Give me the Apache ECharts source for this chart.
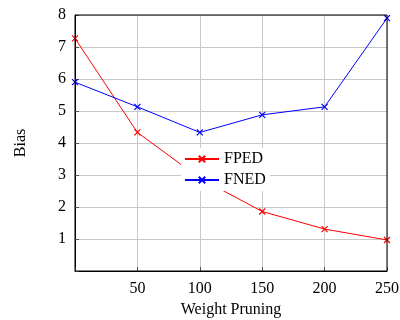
<!DOCTYPE html>
<html>
<head>
<meta charset="utf-8">
<script src="https://cdn.jsdelivr.net/npm/echarts@6/dist/echarts.min.js"></script>
<style>
  html, body { margin: 0; padding: 0; background: #fff; }
  #chart { width: 400px; height: 320px; }
</style>
</head>
<body>
<div id="chart"></div>
<script>
var xValues = [0, 50, 100, 150, 200, 250];
var fped = [7.27, 4.33, 2.9, 1.86, 1.31, 0.97];
var fned = [5.9, 5.13, 4.33, 4.88, 5.13, 7.9];
var seriesNames = ["FPED", "FNED"];
var seriesColors = ["#ff0000", "#0000ff"];

function pairs(ys) {
  return xValues.map(function (x, i) { return [x, ys[i]]; });
}

var font = "Liberation Serif";
var chart = echarts.init(document.getElementById("chart"));
chart.setOption({
  backgroundColor: "#fff",
  animation: false,
  grid: { left: 75, right: 13, top: 15, bottom: 49, outerBoundsMode: "none", containLabel: false },
  legend: {
    data: seriesNames,
    orient: "vertical",
    left: 181,
    top: 148,
    backgroundColor: "#fff",
    padding: [3, 4, 3, 3],
    itemGap: 5,
    itemWidth: 34,
    itemHeight: 8,
    textStyle: { fontFamily: font, fontSize: 16, color: "#000" }
  },
  xAxis: {
    type: "value",
    min: 0,
    max: 250,
    interval: 50,
    name: "Weight Pruning",
    nameLocation: "middle",
    nameGap: 31,
    nameTextStyle: { fontFamily: font, fontSize: 16, color: "#000" },
    axisLine: { lineStyle: { color: "#000", width: 1 } },
    axisTick: { inside: true, length: 4, lineStyle: { color: "#555" } },
    axisLabel: {
      fontFamily: font, fontSize: 16, color: "#000", margin: 10,
      formatter: function (v) { return v === 0 ? "" : v; }
    },
    splitLine: { show: true, lineStyle: { color: "#c8c8c8", width: 1 } }
  },
  yAxis: {
    type: "value",
    min: 0,
    max: 8,
    interval: 1,
    name: "Bias",
    nameLocation: "middle",
    nameGap: 46,
    nameRotate: 90,
    nameTextStyle: { fontFamily: font, fontSize: 16, color: "#000" },
    axisLine: { show: true, lineStyle: { color: "#000", width: 1 } },
    axisTick: { inside: true, length: 4, lineStyle: { color: "#555" } },
    axisLabel: {
      fontFamily: font, fontSize: 16, color: "#000", margin: 9,
      formatter: function (v) { return v === 0 ? "" : v; }
    },
    splitLine: { show: true, lineStyle: { color: "#c8c8c8", width: 1 } }
  },
  series: [
    {
      name: seriesNames[0],
      type: "line",
      data: pairs(fped),
      color: seriesColors[0],
      symbol: "path://M0,0L10,10M10,0L0,10",
      symbolSize: 6,
      lineStyle: { width: 1 },
      itemStyle: { color: seriesColors[0], borderColor: seriesColors[0], borderWidth: 1.2 },
      z: 2
    },
    {
      name: seriesNames[1],
      type: "line",
      data: pairs(fned),
      color: seriesColors[1],
      symbol: "path://M0,0L10,10M10,0L0,10",
      symbolSize: 6,
      lineStyle: { width: 1 },
      itemStyle: { color: seriesColors[1], borderColor: seriesColors[1], borderWidth: 1.2 },
      z: 2
    }
  ],
  graphic: [{
    type: "rect",
    shape: { x: 75, y: 15, width: 312, height: 256 },
    style: { fill: "none", stroke: "#000", lineWidth: 1 },
    silent: true,
    z: 10
  }]
});
</script>
</body>
</html>
